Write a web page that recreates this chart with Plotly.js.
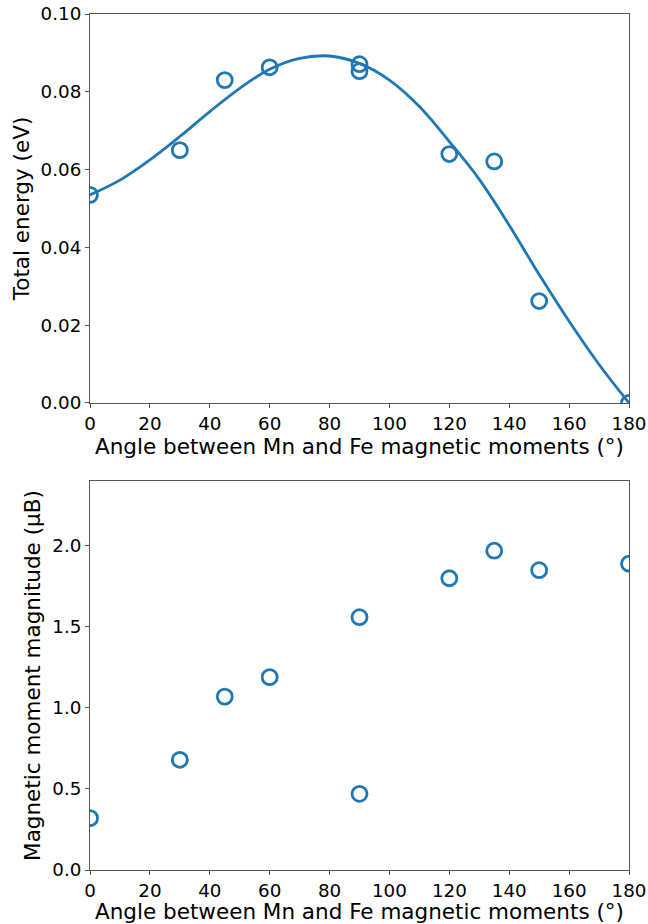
<!DOCTYPE html>
<html>
<head>
<meta charset="utf-8">
<script src="https://cdn.plot.ly/plotly-3.0.1.min.js"></script>
<style>html,body{margin:0;padding:0;background:#fff;}#chart{width:648px;height:924px;}</style>
</head>
<body>
<div id="chart"></div>
<script>
// Top panel: total energy vs angle (data points)
const energyAngles = [0, 30, 45, 60, 90, 90, 120, 135, 150, 180];
const energyValues = [0.0535, 0.065, 0.083, 0.0863, 0.0853, 0.0871, 0.064, 0.0621, 0.0262, 0.0];

// Top panel: fitted curve
const fitAngles = [0, 10, 20, 30, 40, 50, 60, 70, 80, 90, 100, 110, 120, 130, 140, 150, 160, 170, 180];
const fitValues = [0.0535, 0.0573, 0.0625, 0.0685, 0.0749, 0.0809, 0.0858, 0.0886, 0.0892, 0.0873, 0.0830, 0.0762, 0.0672, 0.0575, 0.0457, 0.0330, 0.0210, 0.0099, 0.0];

// Bottom panel: magnetic moment magnitude vs angle
const momentAngles = [0, 30, 45, 60, 90, 90, 120, 135, 150, 180];
const momentValues = [0.32, 0.68, 1.07, 1.19, 1.56, 0.47, 1.80, 1.97, 1.85, 1.89];

// Tick labels
const xTicks = [0, 20, 40, 60, 80, 100, 120, 140, 160, 180];
const energyTicks = [0.00, 0.02, 0.04, 0.06, 0.08, 0.10];
const momentTicks = [0.0, 0.5, 1.0, 1.5, 2.0];

const blue = '#1f77b4';
const font = 'DejaVu Sans, sans-serif';
const markerStyle = {symbol: 'circle-open', size: 15, color: blue, line: {width: 2.8, color: blue}};

const traces = [
  {x: fitAngles, y: fitValues, type: 'scatter', mode: 'lines', line: {color: blue, width: 2.8, shape: 'spline', smoothing: 1}, xaxis: 'x', yaxis: 'y', hoverinfo: 'skip'},
  {x: energyAngles, y: energyValues, type: 'scatter', mode: 'markers', marker: markerStyle, xaxis: 'x', yaxis: 'y'},
  {x: momentAngles, y: momentValues, type: 'scatter', mode: 'markers', marker: markerStyle, xaxis: 'x2', yaxis: 'y2'}
];

function xAxis(anchor) {
  return {
    anchor: anchor, domain: [0, 1], range: [0, 180],
    tickvals: xTicks, ticktext: xTicks.map(String),
    showline: true, mirror: true, linecolor: '#555', linewidth: 1,
    ticks: 'outside', ticklen: 4, tickwidth: 1, tickcolor: '#555',
    showgrid: false, zeroline: false,
    tickfont: {family: font, size: 18.3, color: '#000'},
    title: {text: 'Angle between Mn and Fe magnetic moments (°)', font: {family: font, size: 21.5, color: '#000'}, standoff: 0}
  };
}
function yAxis(anchor, domain, range, ticks, fmt, title) {
  return {
    anchor: anchor, domain: domain, range: range,
    tickvals: ticks, ticktext: ticks.map(v => v.toFixed(fmt)),
    showline: true, mirror: true, linecolor: '#555', linewidth: 1,
    ticks: 'outside', ticklen: 4, tickwidth: 1, tickcolor: '#555',
    showgrid: false, zeroline: false,
    tickfont: {family: font, size: 18.3, color: '#000'},
    title: {text: title, font: {family: font, size: 21.5, color: '#000'}, standoff: 5}
  };
}

const layout = {
  width: 648, height: 924,
  margin: {l: 90, r: 19, t: 14, b: 54},
  paper_bgcolor: '#fff', plot_bgcolor: '#fff',
  showlegend: false,
  xaxis: xAxis('y'),
  yaxis: yAxis('x', [0.5456, 1], [0, 0.10], energyTicks, 2, 'Total energy (eV)'),
  xaxis2: xAxis('y2'),
  yaxis2: yAxis('x2', [0, 0.4544], [0, 2.4], momentTicks, 1, 'Magnetic moment magnitude (μB)')
};

Plotly.newPlot('chart', traces, layout, {staticPlot: true, displayModeBar: false});
</script>
</body>
</html>
